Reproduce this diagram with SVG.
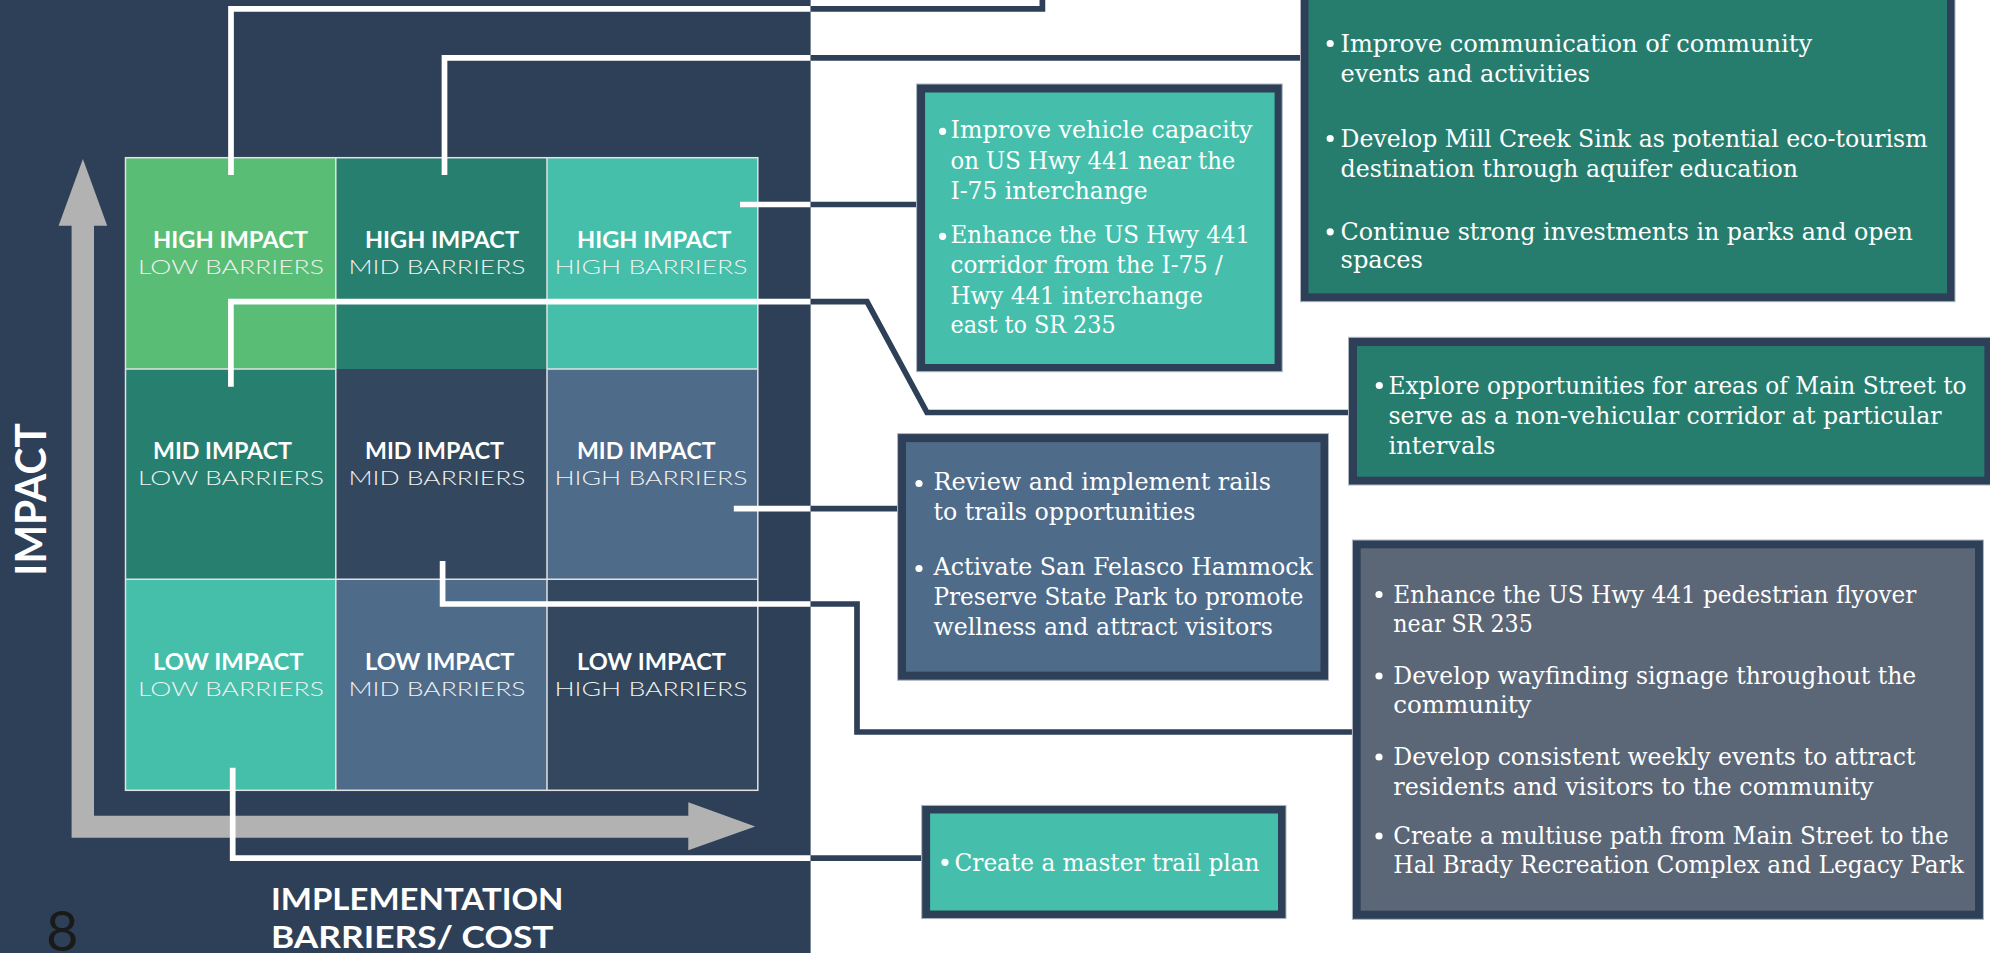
<svg xmlns="http://www.w3.org/2000/svg" width="1990" height="953" viewBox="0 0 1990 953">
<style>
.cellh{font-family:Lato,"Open Sans","Liberation Sans",sans-serif;font-weight:700;font-size:22px;fill:#fff}
.cellb{font-family:Lato,"Open Sans","Liberation Sans",sans-serif;font-weight:300;font-size:20px;fill:#f2f2f2}
.axis{font-family:Lato,"Open Sans","Liberation Sans",sans-serif;font-weight:700;fill:#fff}
.body{font-family:"DejaVu Serif","Liberation Serif",serif;font-stretch:condensed;font-size:24px;fill:#fff}
.wire{fill:none;stroke:#fff;stroke-width:5.7;stroke-linejoin:miter;stroke-linecap:butt}
.dwire{fill:none;stroke:#2E4057;stroke-width:5.7;stroke-linejoin:miter;stroke-linecap:butt}
.outer{fill:#2E4057;stroke:#aeb5bf;stroke-width:1}
.dot{fill:#fff}
.grid{fill:none;stroke:#e2e2e2;stroke-width:1.5}
</style>
<rect x="0" y="0" width="1990" height="953" fill="#fff"/>
<rect x="0" y="0" width="810.6" height="953" fill="#2E4057"/>

<g id="matrix">
<rect x="125.5" y="157.7" width="210.3" height="211.3" fill="#5ABD76"/>
<rect x="335.8" y="157.7" width="211.2" height="211.3" fill="#277F70"/>
<rect x="547" y="157.7" width="210.8" height="211.3" fill="#45BEAA"/>
<rect x="125.5" y="369" width="210.3" height="210.3" fill="#277F70"/>
<rect x="335.8" y="369" width="211.2" height="210.3" fill="#33475E"/>
<rect x="547" y="369" width="210.8" height="210.3" fill="#4E6B8A"/>
<rect x="125.5" y="579.3" width="210.3" height="211" fill="#45BEAA"/>
<rect x="335.8" y="579.3" width="211.2" height="211" fill="#4E6B8A"/>
<rect x="547" y="579.3" width="210.8" height="211" fill="#33475E"/>
<rect class="grid" x="125.5" y="157.7" width="632.3" height="632.6"/>
<path class="grid" d="M335.8 157.7V790.3M547 157.7V790.3M125.5 369H335.8M547 369H757.8M125.5 579.3H757.8"/>
</g>

<g id="cell-high-low"><text class="cellh" x="153" y="247.5" textLength="155" lengthAdjust="spacingAndGlyphs">HIGH IMPACT</text><text class="cellb" x="138" y="273.5" textLength="186" lengthAdjust="spacingAndGlyphs">LOW BARRIERS</text></g>
<g id="cell-high-mid"><text class="cellh" x="365" y="247.5" textLength="154" lengthAdjust="spacingAndGlyphs">HIGH IMPACT</text><text class="cellb" x="348.5" y="273.5" textLength="177" lengthAdjust="spacingAndGlyphs">MID BARRIERS</text></g>
<g id="cell-high-high"><text class="cellh" x="577" y="247.5" textLength="154.5" lengthAdjust="spacingAndGlyphs">HIGH IMPACT</text><text class="cellb" x="554.5" y="273.5" textLength="193" lengthAdjust="spacingAndGlyphs">HIGH BARRIERS</text></g>
<g id="cell-mid-low"><text class="cellh" x="153" y="458.5" textLength="139" lengthAdjust="spacingAndGlyphs">MID IMPACT</text><text class="cellb" x="138" y="484.5" textLength="186" lengthAdjust="spacingAndGlyphs">LOW BARRIERS</text></g>
<g id="cell-mid-mid"><text class="cellh" x="365" y="458.5" textLength="139" lengthAdjust="spacingAndGlyphs">MID IMPACT</text><text class="cellb" x="348.5" y="484.5" textLength="177" lengthAdjust="spacingAndGlyphs">MID BARRIERS</text></g>
<g id="cell-mid-high"><text class="cellh" x="577" y="458.5" textLength="138.6" lengthAdjust="spacingAndGlyphs">MID IMPACT</text><text class="cellb" x="554.5" y="484.5" textLength="193" lengthAdjust="spacingAndGlyphs">HIGH BARRIERS</text></g>
<g id="cell-low-low"><text class="cellh" x="153" y="669.5" textLength="150.5" lengthAdjust="spacingAndGlyphs">LOW IMPACT</text><text class="cellb" x="138" y="695.5" textLength="186" lengthAdjust="spacingAndGlyphs">LOW BARRIERS</text></g>
<g id="cell-low-mid"><text class="cellh" x="365" y="669.5" textLength="149.5" lengthAdjust="spacingAndGlyphs">LOW IMPACT</text><text class="cellb" x="348.5" y="695.5" textLength="177" lengthAdjust="spacingAndGlyphs">MID BARRIERS</text></g>
<g id="cell-low-high"><text class="cellh" x="577" y="669.5" textLength="149" lengthAdjust="spacingAndGlyphs">LOW IMPACT</text><text class="cellb" x="554.5" y="695.5" textLength="193" lengthAdjust="spacingAndGlyphs">HIGH BARRIERS</text></g>

<g id="axes">
<path d="M82.9 159L107.2 225.7H94V815.7H688.3V802.3L755.2 826.5L688.3 850.3V837.7H71.6V225.7H58.6Z" fill="#B2B2B2"/>
<text class="axis" font-size="42" transform="translate(45.5 499.4) rotate(-90)" text-anchor="middle" textLength="152.5" lengthAdjust="spacingAndGlyphs">IMPACT</text>
<text class="axis" font-size="31" x="271" y="910" textLength="292.5" lengthAdjust="spacingAndGlyphs">IMPLEMENTATION</text>
<text class="axis" font-size="31" x="271" y="948.3" textLength="282.5" lengthAdjust="spacingAndGlyphs">BARRIERS/ COST</text>
<text x="46" y="951" font-family="Lato,'Open Sans',sans-serif" font-weight="400" font-size="56" fill="#1a1a1a">8</text>
</g>

<g id="connectors">
<polyline class="wire" points="231,175 231,8.8 810.6,8.8"/>
<polyline class="dwire" points="810.6,8.8 1042.4,8.8 1042.4,-10"/>
<polyline class="wire" points="444.5,175 444.5,57.8 810.6,57.8"/>
<polyline class="dwire" points="810.6,57.8 1300.5,57.8"/>
<polyline class="wire" points="740,204.5 810.6,204.5"/>
<polyline class="dwire" points="810.6,204.5 916.6,204.5"/>
<polyline class="wire" points="230.9,386.7 230.9,301.7 810.6,301.7"/>
<polyline class="dwire" points="810.6,301.7 867,301.7 927,412.5 1348.5,412.5"/>
<polyline class="wire" points="733.8,508.7 810.6,508.7"/>
<polyline class="dwire" points="810.6,508.7 897.6,508.7"/>
<polyline class="wire" points="442.6,561 442.6,604 810.6,604"/>
<polyline class="dwire" points="810.6,604 857,604 857,732 1352.4,732"/>
<polyline class="wire" points="232.7,767.7 232.7,858.2 810.6,858.2"/>
<polyline class="dwire" points="810.6,858.2 921.7,858.2"/>
</g>

<g id="box-community">
<rect class="outer" x="1300.5" y="-20" width="654.5" height="321.7"/>
<rect x="1308.5" y="-20" width="638.5" height="313.3" fill="#267D6E"/>
<circle class="dot" cx="1330.2" cy="43.5" r="3.6"/>
<circle class="dot" cx="1330.2" cy="138.5" r="3.6"/>
<circle class="dot" cx="1330.2" cy="231.8" r="3.6"/>
<text class="body" x="1340.5" y="51.7" textLength="471.5" lengthAdjust="spacingAndGlyphs">Improve communication of community</text>
<text class="body" x="1340.5" y="81.7" textLength="249.5" lengthAdjust="spacingAndGlyphs">events and activities</text>
<text class="body" x="1340.5" y="146.7" textLength="587" lengthAdjust="spacingAndGlyphs">Develop Mill Creek Sink as potential eco-tourism</text>
<text class="body" x="1340.5" y="176.7" textLength="457.5" lengthAdjust="spacingAndGlyphs">destination through aquifer education</text>
<text class="body" x="1340.5" y="240" textLength="572.3" lengthAdjust="spacingAndGlyphs">Continue strong investments in parks and open</text>
<text class="body" x="1340.5" y="268.3" textLength="82.5" lengthAdjust="spacingAndGlyphs">spaces</text>
</g>

<g id="box-vehicle">
<rect class="outer" x="916.6" y="84" width="365.6" height="287.7"/>
<rect x="925.1" y="92.5" width="349.5" height="271.5" fill="#45BFAB"/>
<circle class="dot" cx="942.6" cy="131.3" r="3.6"/>
<circle class="dot" cx="942.6" cy="236.3" r="3.6"/>
<text class="body" x="950.5" y="138.3" textLength="302" lengthAdjust="spacingAndGlyphs">Improve vehicle capacity</text>
<text class="body" x="950.5" y="169" textLength="284.8" lengthAdjust="spacingAndGlyphs">on US Hwy 441 near the</text>
<text class="body" x="950.5" y="199" textLength="197" lengthAdjust="spacingAndGlyphs">I-75 interchange</text>
<text class="body" x="950.5" y="243.3" textLength="299.5" lengthAdjust="spacingAndGlyphs">Enhance the US Hwy 441</text>
<text class="body" x="950.5" y="273.3" textLength="272.4" lengthAdjust="spacingAndGlyphs">corridor from the I-75 /</text>
<text class="body" x="950.5" y="304" textLength="252.5" lengthAdjust="spacingAndGlyphs">Hwy 441 interchange</text>
<text class="body" x="950.5" y="333.3" textLength="165.2" lengthAdjust="spacingAndGlyphs">east to SR 235</text>
</g>

<g id="box-mainstreet">
<rect class="outer" x="1348.5" y="337.3" width="660" height="147.7"/>
<rect x="1357" y="346" width="627.4" height="130.7" fill="#267D6E"/>
<circle class="dot" cx="1379.3" cy="385.5" r="3.6"/>
<text class="body" x="1388.5" y="394" textLength="578" lengthAdjust="spacingAndGlyphs">Explore opportunities for areas of Main Street to</text>
<text class="body" x="1388.5" y="424" textLength="553" lengthAdjust="spacingAndGlyphs">serve as a non-vehicular corridor at particular</text>
<text class="body" x="1388.5" y="454" textLength="107" lengthAdjust="spacingAndGlyphs">intervals</text>
</g>

<g id="box-trails">
<rect class="outer" x="897.6" y="433.6" width="430.9" height="246.6"/>
<rect x="906" y="442.1" width="414.5" height="229.6" fill="#4E6B8A"/>
<circle class="dot" cx="919" cy="483.5" r="3.6"/>
<circle class="dot" cx="919" cy="568.5" r="3.6"/>
<text class="body" x="933.5" y="489.7" textLength="337.5" lengthAdjust="spacingAndGlyphs">Review and implement rails</text>
<text class="body" x="933.5" y="520.3" textLength="261.8" lengthAdjust="spacingAndGlyphs">to trails opportunities</text>
<text class="body" x="933.5" y="574.8" textLength="379.5" lengthAdjust="spacingAndGlyphs">Activate San Felasco Hammock</text>
<text class="body" x="933.5" y="605.4" textLength="370" lengthAdjust="spacingAndGlyphs">Preserve State Park to promote</text>
<text class="body" x="933.5" y="635" textLength="339.3" lengthAdjust="spacingAndGlyphs">wellness and attract visitors</text>
</g>

<g id="box-pedestrian">
<rect class="outer" x="1352.4" y="540" width="631" height="379.3"/>
<rect x="1360.7" y="548.3" width="614.3" height="362.4" fill="#5B6677"/>
<circle class="dot" cx="1379" cy="594.5" r="3.6"/>
<circle class="dot" cx="1379" cy="676" r="3.6"/>
<circle class="dot" cx="1379" cy="757" r="3.6"/>
<circle class="dot" cx="1379" cy="836" r="3.6"/>
<text class="body" x="1393.3" y="602.7" textLength="523" lengthAdjust="spacingAndGlyphs">Enhance the US Hwy 441 pedestrian flyover</text>
<text class="body" x="1393.3" y="631.7" textLength="139.5" lengthAdjust="spacingAndGlyphs">near SR 235</text>
<text class="body" x="1393.3" y="684" textLength="523" lengthAdjust="spacingAndGlyphs">Develop wayfinding signage throughout the</text>
<text class="body" x="1393.3" y="712.7" textLength="138.2" lengthAdjust="spacingAndGlyphs">community</text>
<text class="body" x="1393.3" y="765" textLength="522.2" lengthAdjust="spacingAndGlyphs">Develop consistent weekly events to attract</text>
<text class="body" x="1393.3" y="795" textLength="480.3" lengthAdjust="spacingAndGlyphs">residents and visitors to the community</text>
<text class="body" x="1393.3" y="844.3" textLength="555.3" lengthAdjust="spacingAndGlyphs">Create a multiuse path from Main Street to the</text>
<text class="body" x="1393.3" y="873.3" textLength="570.7" lengthAdjust="spacingAndGlyphs">Hal Brady Recreation Complex and Legacy Park</text>
</g>

<g id="box-trailplan">
<rect class="outer" x="921.7" y="805.4" width="364.3" height="113.2"/>
<rect x="930.1" y="813.5" width="347.9" height="97" fill="#45BFAB"/>
<circle class="dot" cx="945" cy="862.3" r="3.6"/>
<text class="body" x="954.5" y="870.7" textLength="305" lengthAdjust="spacingAndGlyphs">Create a master trail plan</text>
</g>
</svg>
